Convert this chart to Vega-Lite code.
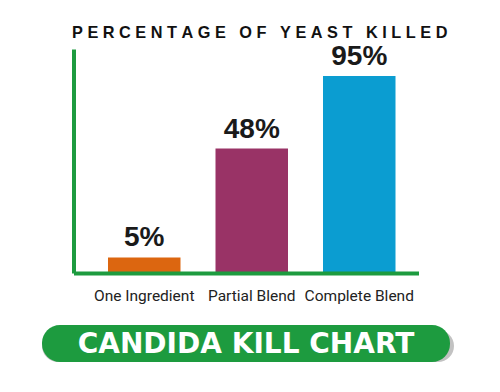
{
  "$schema": "https://vega.github.io/schema/vega-lite/v6.json",
  "background": "white",
  "padding": {"top": 24, "left": 42, "right": 0, "bottom": 0},
  "config": {"view": {"stroke": null}},
  "bounds": "flush",
  "center": true,
  "spacing": 52,
  "vconcat": [
    {
      "width": 345,
      "height": 224,
      "title": {
        "text": "P\u00a0E\u00a0R\u00a0C\u00a0E\u00a0N\u00a0T\u00a0A\u00a0G\u00a0E\u00a0\u00a0\u00a0O\u00a0F\u00a0\u00a0\u00a0Y\u00a0E\u00a0A\u00a0S\u00a0T\u00a0\u00a0\u00a0K\u00a0I\u00a0L\u00a0L\u00a0E\u00a0D",
        "anchor": "start",
        "frame": "group",
        "dx": -1.5,
        "offset": -11,
        "baseline": "alphabetic",
        "font": "Liberation Sans",
        "fontSize": 16.3,
        "fontWeight": "bold",
        "color": "#111111"
      },
      "data": {
        "values": [
          {"category": "One Ingredient", "bar": 7.5, "label": "5%"},
          {"category": "Partial Blend", "bar": 60, "label": "48%"},
          {"category": "Complete Blend", "bar": 95, "label": "95%"}
        ]
      },
      "encoding": {
        "x": {
          "field": "category",
          "type": "nominal",
          "sort": null,
          "scale": {"paddingInner": 0.3256, "paddingOuter": 0.2674, "align": 0.6},
          "axis": {
            "title": null,
            "labelAngle": 0,
            "ticks": false,
            "domainColor": "#1d9b3f",
            "domainWidth": 4,
            "labelFont": "Roboto",
            "labelFontSize": 15.5,
            "labelColor": "#222222",
            "labelPadding": 15,
            "zindex": 1
          }
        },
        "y": {
          "field": "bar",
          "type": "quantitative",
          "scale": {"domain": [0, 108], "nice": false},
          "axis": {
            "title": null,
            "labels": false,
            "ticks": false,
            "grid": false,
            "domainColor": "#1d9b3f",
            "domainWidth": 4,
            "zindex": 1
          }
        }
      },
      "layer": [
        {
          "mark": {"type": "bar"},
          "encoding": {
            "color": {
              "field": "category",
              "type": "nominal",
              "sort": null,
              "scale": {"range": ["#dc6610", "#993366", "#0b9dd1"]},
              "legend": null
            }
          }
        },
        {
          "mark": {
            "type": "text",
            "baseline": "alphabetic",
            "dy": -11,
            "font": "Liberation Sans",
            "fontSize": 28,
            "fontWeight": "bold",
            "color": "#1a1a1a"
          },
          "encoding": {"text": {"field": "label"}}
        }
      ]
    },
    {
      "width": 408,
      "height": 37,
      "data": {"values": [{"banner": "CANDIDA KILL CHART"}]},
      "layer": [
        {
          "mark": {"type": "rect", "cornerRadius": 18, "fill": "#777777", "opacity": 0.45, "xOffset": 4, "yOffset": 5},
          "encoding": {}
        },
        {
          "mark": {"type": "rect", "cornerRadius": 18, "fill": "#1d9b3f"},
          "encoding": {}
        },
        {
          "mark": {
            "type": "text",
            "baseline": "middle",
            "align": "center",
            "font": "DejaVu Sans",
            "fontSize": 28,
            "fontWeight": "bold",
            "color": "white",
            "dy": 1
          },
          "encoding": {"text": {"field": "banner"}}
        }
      ]
    }
  ]
}
